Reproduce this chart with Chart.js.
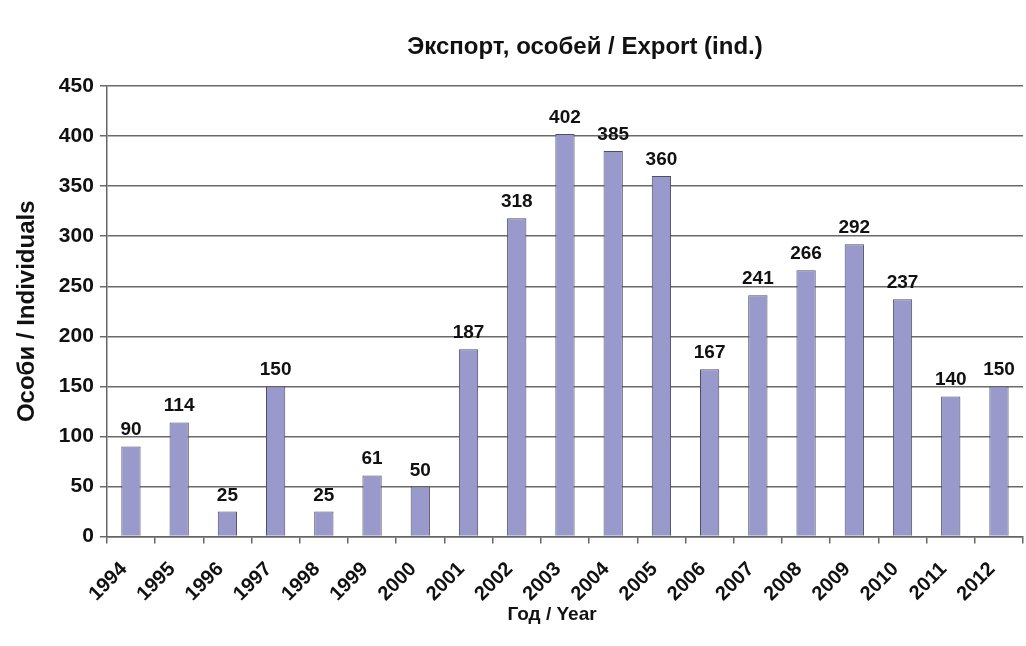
<!DOCTYPE html>
<html>
<head>
<meta charset="utf-8">
<script src="https://cdn.jsdelivr.net/npm/chart.js@4"></script>
<style>
  html, body { margin: 0; padding: 0; background: #fff; overflow: hidden; }
  .lbl { position: absolute; transform: translate(-50%, -50%); white-space: nowrap;
         font-family: "Liberation Sans", Arial, sans-serif; font-weight: bold; color: #111; line-height: 1; }
  #title { top: 46px; left: 585px; font-size: 24px; }
  #xTitle { top: 613px; left: 552px; font-size: 19px; }
  #wrap { position: absolute; left: 0; top: 0; width: 1030px; height: 646px; }
</style>
</head>
<body>
<div id="wrap"><canvas id="chart"></canvas></div>
<div id="title" class="lbl">Экспорт, особей / Export (ind.)</div>
<div id="xTitle" class="lbl">Год / Year</div>
<script>
const years = ['1994', '1995', '1996', '1997', '1998', '1999', '2000', '2001', '2002', '2003',
               '2004', '2005', '2006', '2007', '2008', '2009', '2010', '2011', '2012'];
const exportCounts = [90, 114, 25, 150, 25, 61, 50, 187, 318, 402, 385, 360, 167, 241, 266, 292, 237, 140, 150];
const yTicks = [0, 50, 100, 150, 200, 250, 300, 350, 400, 450];

const fontName = '"Liberation Sans", Arial, sans-serif';

// value labels above each bar
const barLabels = {
  id: 'barLabels',
  afterDatasetsDraw(chart) {
    const ctx = chart.ctx;
    const meta = chart.getDatasetMeta(0);
    ctx.save();
    ctx.font = 'bold 19px ' + fontName;
    ctx.fillStyle = '#111';
    ctx.textAlign = 'center';
    ctx.textBaseline = 'alphabetic';
    meta.data.forEach((bar, i) => {
      ctx.fillText(exportCounts[i], bar.x, bar.y - 11);
    });
    ctx.restore();
  }
};

new Chart(document.getElementById('chart'), {
  type: 'bar',
  data: {
    labels: years,
    datasets: [{
      data: exportCounts,
      backgroundColor: '#9999cc',
      borderColor: '#4d4d66',
      borderWidth: 1,
      categoryPercentage: 1,
      barPercentage: 0.4
    }]
  },
  options: {
    responsive: true,
    maintainAspectRatio: false,
    animation: false,
    layout: { padding: { top: 86, left: 13, right: 2, bottom: 26 } },
    plugins: {
      legend: { display: false },
      tooltip: { enabled: false }
    },
    scales: {
      x: {
        offset: true,
        grid: { offset: true, drawOnChartArea: false, drawTicks: true, tickLength: 7, color: '#666', lineWidth: 1.5 },
        border: { color: '#666', width: 1.5 },
        ticks: {
          minRotation: 45, maxRotation: 45, autoSkip: false, labelOffset: -7,
          color: '#111', font: { family: fontName, size: 20, weight: 'bold' },
          padding: 14
        }
      },
      y: {
        min: 0, max: 450,
        afterBuildTicks(axis) { axis.ticks = yTicks.map(v => ({ value: v })); },
        grid: { color: '#6a6a6a', lineWidth: 1.5, tickLength: 7 },
        border: { color: '#666', width: 1.5 },
        ticks: {
          color: '#111', font: { family: fontName, size: 21, weight: 'bold' }, padding: 6
        },
        title: {
          display: true, text: 'Особи / Individuals', color: '#111',
          font: { family: fontName, size: 24, weight: 'bold' }, padding: { top: 0, bottom: 11 }
        }
      }
    }
  },
  plugins: [barLabels]
});
</script>
</body>
</html>
